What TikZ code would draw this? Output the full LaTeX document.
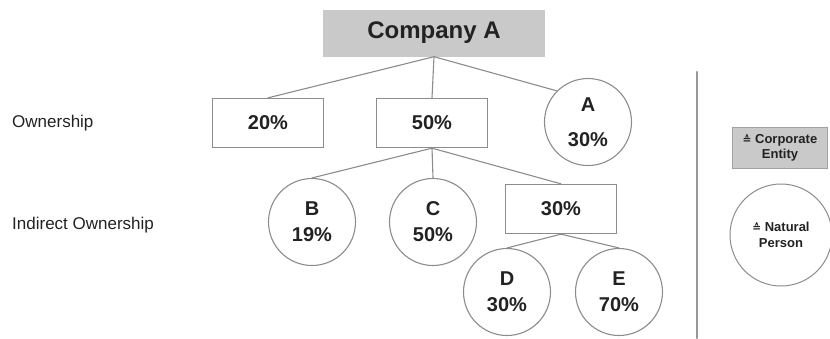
\documentclass[tikz,border=0pt]{standalone}
\usepackage{fontspec}
\setmainfont{Liberation Sans}
\newfontfamily\symfont{DejaVu Sans}
\usetikzlibrary{arrows}
\definecolor{boxgray}{HTML}{C9C9C9}
\definecolor{linegray}{HTML}{8C8C8C}
\definecolor{textdark}{HTML}{222222}

\begin{document}
\begin{tikzpicture}[x=1pt,y=-1pt,cap=round]
% Styles
\tikzstyle{share box}=[draw=linegray,line width=1.3pt,minimum width=111pt,minimum height=49pt,inner sep=0pt,text=textdark,font=\fontsize{20}{26}\selectfont\bfseries]
\tikzstyle{share circle}=[circle,draw=linegray,line width=1.1pt,minimum size=87pt,inner sep=0pt,align=center,text=textdark,font=\fontsize{20}{26}\selectfont\bfseries]
\tikzstyle{level text}=[anchor=west,inner sep=0pt,text=textdark,font=\fontsize{17}{20}\selectfont]
\tikzstyle{link}=[draw=linegray,line width=1.1pt]

\useasboundingbox (0,0) rectangle (830,338);

% draw the nodes
\node[fill=boxgray,minimum width=222pt,minimum height=47pt,inner sep=0pt,text=textdark,font=\fontsize{24}{28}\selectfont\bfseries] (company) at (434,33) {Company A};

\node[share box] (own20) at (268,123) {20\%};
\node[share box] (own50) at (432,123) {50\%};
\node[share circle] (ownA) at (588,122) {A\\[9pt]30\%};

\node[share circle] (indB) at (312,222) {B\\19\%};
\node[share circle] (indC) at (433,222) {C\\50\%};
\node[share box] (ind30) at (561,209) {30\%};

\node[share circle] (indD) at (507,292) {D\\30\%};
\node[share circle] (indE) at (619,292) {E\\70\%};

% level labels
\node[level text] (lblown) at (12,123) {Ownership};
\node[level text] (lblind) at (12,225) {Indirect Ownership};

% connectors
\foreach \child in {own20.north,own50.north,ownA.135} {
\draw[link] (company.south) -- (\child);
}
\foreach \child in {indB.north,indC.north,ind30.north} {
\draw[link] (own50.south) -- (\child);
}
\foreach \child in {indD.north,indE.north} {
\draw[link] (ind30.south) -- (\child);
}

% legend
\coordinate (septop) at (697,72);
\coordinate (sepbot) at (697,338);
\draw[draw=boxgray!75!black,line width=2.2pt] (septop) -- (sepbot);

\node[fill=boxgray,draw=boxgray!80!black,line width=0.6pt,minimum width=95pt,minimum height=41pt,inner sep=0pt,align=center,text=textdark,font=\fontsize{13}{15.5}\selectfont\bfseries] (corp) at (780,148) {{\symfont\fontsize{10.5}{15}\selectfont ≙} Corporate\\Entity};
\node[circle,draw=linegray,line width=1pt,minimum size=102pt,inner sep=0pt,align=center,text=textdark,font=\fontsize{13}{15.5}\selectfont\bfseries] (natural) at (781,235) {{\symfont\fontsize{10.5}{15}\selectfont ≙} Natural\\Person};

\end{tikzpicture}
\end{document}
